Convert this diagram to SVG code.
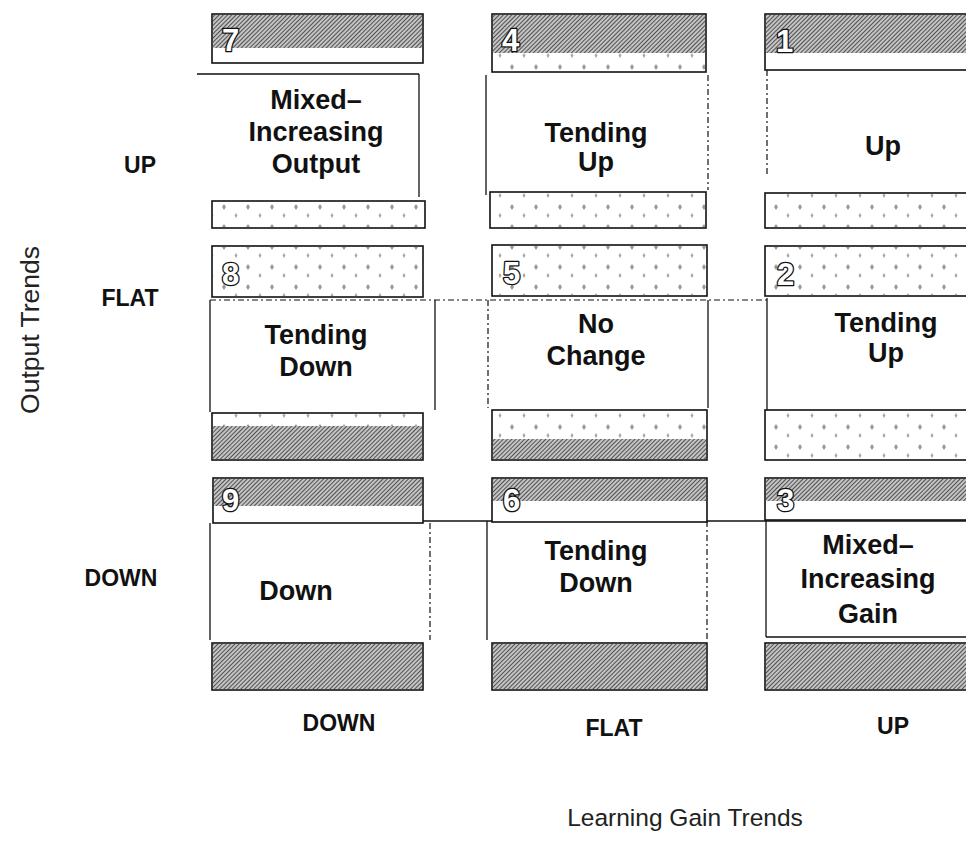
<svg xmlns="http://www.w3.org/2000/svg" width="966" height="857" viewBox="0 0 966 857">
<style>
.band{fill:#fff;stroke:#111;stroke-width:1.6}
.dark{fill:url(#hatch)}
.light{fill:url(#speck)}
.edge{fill:none;stroke:#111;stroke-width:1.3}
.dash{fill:none;stroke:#111;stroke-width:1.2;stroke-dasharray:6 3 2 3}
.txt{font-family:"Liberation Sans",Arial,sans-serif;font-weight:bold;font-size:27px;fill:#111;text-anchor:middle}
.num{font-family:"Liberation Sans",Arial,sans-serif;font-weight:bold;font-size:31px;fill:#fff;stroke:#111;stroke-width:2.6;paint-order:stroke;stroke-linejoin:round}
.lab{font-family:"Liberation Sans",Arial,sans-serif;font-weight:bold;font-size:23px;fill:#111;text-anchor:middle}
.axis{font-family:"Liberation Sans",Arial,sans-serif;font-size:24.5px;fill:#222;text-anchor:middle}
</style>
<defs>
<pattern id="hatch" patternUnits="userSpaceOnUse" width="3" height="3" patternTransform="rotate(45)">
<rect width="3" height="3" fill="#c4c4c4"/>
<line x1="0" y1="0" x2="0" y2="3" stroke="#2a2a2a" stroke-width="1.5"/>
</pattern>
<pattern id="speck" patternUnits="userSpaceOnUse" width="24" height="20">
<rect width="24" height="20" fill="#fff"/>
<path d="M8 4 l2 3 l-2 3 l-2 -3z" fill="#999"/>
<path d="M20 13 l1.5 2.5 l-1.5 2.5 l-1.5 -2.5z" fill="#aaa"/>
</pattern>
</defs>
<rect width="966" height="857" fill="#fff"/>

<g id="lines">
<line x1="197" y1="74" x2="419" y2="74" class="edge"/>
<line x1="210" y1="300" x2="767" y2="300" class="dash"/>
<line x1="423" y1="521" x2="966" y2="521" class="edge"/>
</g>

<g id="cell7">
<rect x="212" y="14" width="211" height="49" class="band"/>
<rect x="213" y="15" width="209" height="33" class="dark"/>
<line x1="419" y1="74" x2="419" y2="197" class="edge"/>
<rect x="212" y="201" width="213" height="27" class="band"/>
<rect x="213" y="202" width="211" height="25" class="light"/>
<text x="222" y="51" class="num">7</text>
<text x="316" y="109" class="txt">Mixed–</text>
<text x="316" y="141" class="txt">Increasing</text>
<text x="316" y="173" class="txt">Output</text>
</g>

<g id="cell4">
<rect x="492" y="14" width="214" height="58" class="band"/>
<rect x="493" y="15" width="212" height="38" class="dark"/>
<rect x="493" y="53" width="212" height="18" class="light"/>
<line x1="486" y1="75" x2="486" y2="195" class="edge"/>
<line x1="708" y1="75" x2="708" y2="190" class="dash"/>
<rect x="490" y="192" width="216" height="36" class="band"/>
<rect x="491" y="193" width="214" height="34" class="light"/>
<text x="502" y="51" class="num">4</text>
<text x="596" y="142" class="txt">Tending</text>
<text x="596" y="171" class="txt">Up</text>
</g>

<g id="cell1">
<rect x="765" y="14" width="210" height="56" class="band"/>
<rect x="766" y="15" width="209" height="38" class="dark"/>
<line x1="767" y1="70" x2="767" y2="175" class="dash"/>
<rect x="765" y="193" width="210" height="35" class="band"/>
<rect x="766" y="194" width="209" height="33" class="light"/>
<text x="776" y="52" class="num">1</text>
<text x="883" y="155" class="txt">Up</text>
</g>

<g id="cell8">
<rect x="212" y="246" width="211" height="51" class="band"/>
<rect x="213" y="247" width="209" height="49" class="light"/>
<line x1="210" y1="300" x2="210" y2="412" class="edge"/>
<line x1="435" y1="300" x2="435" y2="410" class="edge"/>
<rect x="212" y="413" width="211" height="47" class="band"/>
<rect x="213" y="414" width="209" height="12" class="light"/>
<rect x="213" y="426" width="209" height="33" class="dark"/>
<text x="222" y="285" class="num">8</text>
<text x="316" y="344" class="txt">Tending</text>
<text x="316" y="376" class="txt">Down</text>
</g>

<g id="cell5">
<rect x="492" y="245" width="215" height="51" class="band"/>
<rect x="493" y="246" width="213" height="49" class="light"/>
<line x1="488" y1="300" x2="488" y2="408" class="dash"/>
<line x1="708" y1="300" x2="708" y2="408" class="edge"/>
<rect x="492" y="410" width="215" height="50" class="band"/>
<rect x="493" y="411" width="213" height="28" class="light"/>
<rect x="493" y="439" width="213" height="20" class="dark"/>
<text x="503" y="284" class="num">5</text>
<text x="596" y="333" class="txt">No</text>
<text x="596" y="365" class="txt">Change</text>
</g>

<g id="cell2">
<rect x="765" y="246" width="210" height="50" class="band"/>
<rect x="766" y="247" width="209" height="48" class="light"/>
<line x1="767" y1="298" x2="767" y2="410" class="edge"/>
<rect x="765" y="410" width="210" height="50" class="band"/>
<rect x="766" y="411" width="209" height="48" class="light"/>
<text x="777" y="285" class="num">2</text>
<text x="886" y="332" class="txt">Tending</text>
<text x="886" y="362" class="txt">Up</text>
</g>

<g id="cell9">
<rect x="213" y="478" width="210" height="45" class="band"/>
<rect x="214" y="479" width="208" height="27" class="dark"/>
<line x1="210" y1="523" x2="210" y2="640" class="edge"/>
<line x1="430" y1="523" x2="430" y2="640" class="dash"/>
<rect x="212" y="643" width="211" height="47" class="band"/>
<rect x="213" y="644" width="209" height="45" class="dark"/>
<text x="222" y="511" class="num">9</text>
<text x="296" y="600" class="txt">Down</text>
</g>

<g id="cell6">
<rect x="492" y="478" width="215" height="44" class="band"/>
<rect x="493" y="479" width="213" height="22" class="dark"/>
<line x1="487" y1="521" x2="487" y2="640" class="edge"/>
<line x1="707" y1="521" x2="707" y2="640" class="dash"/>
<rect x="492" y="643" width="215" height="47" class="band"/>
<rect x="493" y="644" width="213" height="45" class="dark"/>
<text x="503" y="511" class="num">6</text>
<text x="596" y="560" class="txt">Tending</text>
<text x="596" y="592" class="txt">Down</text>
</g>

<g id="cell3">
<rect x="765" y="478" width="210" height="42" class="band"/>
<rect x="766" y="479" width="209" height="22" class="dark"/>
<line x1="766" y1="520" x2="766" y2="637" class="edge"/>
<line x1="766" y1="637" x2="966" y2="637" class="edge"/>
<rect x="765" y="643" width="210" height="47" class="band"/>
<rect x="766" y="644" width="209" height="45" class="dark"/>
<text x="777" y="511" class="num">3</text>
<text x="868" y="554" class="txt">Mixed–</text>
<text x="868" y="588" class="txt">Increasing</text>
<text x="868" y="623" class="txt">Gain</text>
</g>

<g id="labels">
<text x="140" y="173" class="lab">UP</text>
<text x="130" y="306" class="lab">FLAT</text>
<text x="121" y="586" class="lab">DOWN</text>
<text x="339" y="731" class="lab">DOWN</text>
<text x="614" y="736" class="lab">FLAT</text>
<text x="893" y="734" class="lab">UP</text>
<text x="685" y="826" class="axis">Learning Gain Trends</text>
<text transform="translate(39 330) rotate(-90)" x="0" y="0" class="axis" style="font-size:26.5px">Output Trends</text>
</g>
</svg>
